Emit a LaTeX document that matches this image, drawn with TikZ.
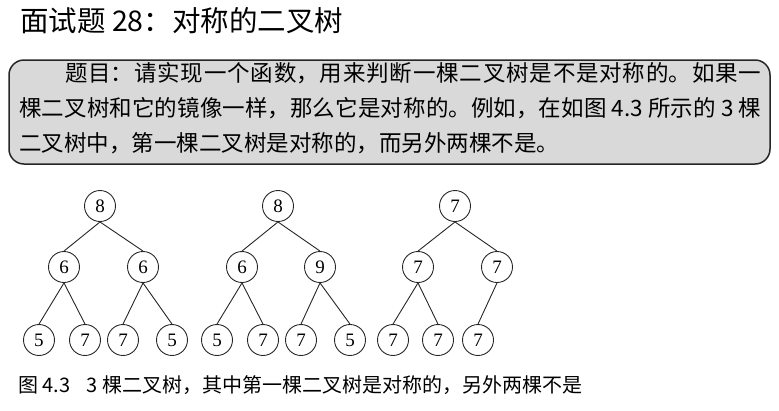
\documentclass[tikz,border=0pt]{standalone}
\usepackage{fontspec}
\setmainfont{Liberation Serif}
\newfontfamily\cjk{Noto Sans CJK SC}
\XeTeXlinebreaklocale "zh"
\XeTeXlinebreakskip=0pt plus 2pt
\begin{document}
\begin{tikzpicture}[x=1pt,y=-1pt,
  tn/.style={circle,draw=black!85,line width=0.9pt,minimum size=31pt,inner sep=0pt,font=\fontsize{19}{19}\selectfont},
  te/.style={draw=black!85,line width=0.9pt}]
\useasboundingbox (0,0) rectangle (779,410);
% title
\node[anchor=west,inner sep=0pt,font=\cjk\fontsize{28.5}{29}\selectfont] (title) at (20,21) {面试题 28：对称的二叉树};
% box
\node[draw=black!85,line width=1.5pt,fill=black!15,rounded corners=15pt,minimum width=761pt,minimum height=104pt,inner sep=0pt] (box) at (389.5,112) {};
\node[anchor=north west,inner sep=0pt,text width=742pt,align=justify,font=\cjk\fontsize{22.5}{35}\selectfont] (prob) at (19,62)
{\parindent=46pt\indent 题目：请实现一个函数，用来判断一棵二叉树是不是对称的。如果一\linebreak 棵二叉树和它的镜像一样，那么它是对称的。例如，在如图 4.3 所示的 3 棵\linebreak 二叉树中，第一棵二叉树是对称的，而另外两棵不是。};
% tree 1
\node[tn] (a1) at (100,206) {8};
\node[tn] (a2) at (64,267) {6};
\node[tn] (a3) at (143,267) {6};
\node[tn] (a4) at (39,340) {5};
\node[tn] (a5) at (85,340) {7};
\node[tn] (a6) at (123,340) {7};
\node[tn] (a7) at (172,340) {5};
\draw[te] (a1.south) -- (a2.north) (a1.south) -- (a3.north);
\draw[te] (a2.south) -- (a4.north) (a2.south) -- (a5.north);
\draw[te] (a3.south) -- (a6.north) (a3.south) -- (a7.north);
% tree 2
\node[tn] (b1) at (278,206) {8};
\node[tn] (b2) at (242,267) {6};
\node[tn] (b3) at (320,267) {9};
\node[tn] (b4) at (217,340) {5};
\node[tn] (b5) at (263,340) {7};
\node[tn] (b6) at (301,340) {7};
\node[tn] (b7) at (350,340) {5};
\draw[te] (b1.south) -- (b2.north) (b1.south) -- (b3.north);
\draw[te] (b2.south) -- (b4.north) (b2.south) -- (b5.north);
\draw[te] (b3.south) -- (b6.north) (b3.south) -- (b7.north);
% tree 3
\node[tn] (c1) at (455,206) {7};
\node[tn] (c2) at (418,267) {7};
\node[tn] (c3) at (497,267) {7};
\node[tn] (c4) at (393,340) {7};
\node[tn] (c5) at (438,340) {7};
\node[tn] (c6) at (478,340) {7};
\draw[te] (c1.south) -- (c2.north) (c1.south) -- (c3.north);
\draw[te] (c2.south) -- (c4.north) (c2.south) -- (c5.north);
\draw[te] (c3.south) -- (c6.north);
% caption
\node[anchor=west,inner sep=0pt,font=\cjk\fontsize{20}{20}\selectfont] (cap) at (18,385) {图 4.3\hspace{16pt}3 棵二叉树，其中第一棵二叉树是对称的，另外两棵不是};
\end{tikzpicture}
\end{document}
